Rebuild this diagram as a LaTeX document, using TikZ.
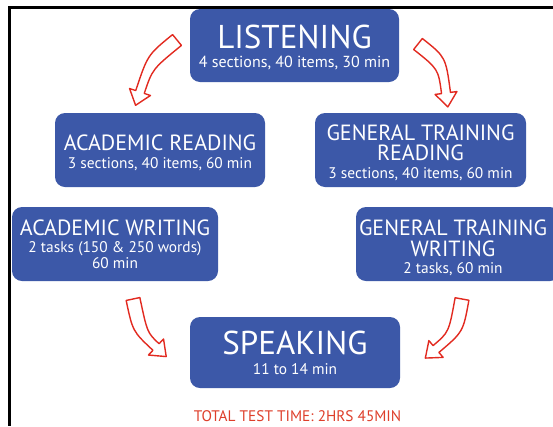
\documentclass[tikz,border=0pt]{standalone}
\usepackage{fontspec}
\setmainfont{PT Sans}
\usetikzlibrary{calc}
\definecolor{boxblue}{RGB}{60,88,168}
\definecolor{arrowred}{RGB}{226,42,32}
\definecolor{totalred}{RGB}{222,62,42}
\newcommand\harrow[3]{%
  \coordinate (hT) at (#1);
  \coordinate (hM) at (#2);
  \coordinate (hB) at (#3);
  \coordinate (hTL) at ($(hT)!7pt!90:(hM)$);
  \coordinate (hTR) at ($(hT)!7pt!-90:(hM)$);
  \coordinate (hBL) at ($(hB)!4.5pt!-90:(hM)$);
  \coordinate (hBR) at ($(hB)!4.5pt!90:(hM)$);
  \coordinate (hWL) at ($(hB)!11pt!-90:(hM)$);
  \coordinate (hWR) at ($(hB)!11pt!90:(hM)$);
  \coordinate (hP) at ($(hB)!-14pt!(hM)$);
  \coordinate (hTLx) at ($(hTL)+(hM)-(hT)$);
  \coordinate (hBLx) at ($(hBL)+(hM)-(hB)$);
  \coordinate (hTRx) at ($(hTR)+(hM)-(hT)$);
  \coordinate (hBRx) at ($(hBR)+(hM)-(hB)$);
  \coordinate (hML) at (intersection of hTL--hTLx and hBL--hBLx);
  \coordinate (hMR) at (intersection of hTR--hTRx and hBR--hBRx);
  \draw[hollow] (hTL) .. controls (hML) .. (hBL) -- (hWL) -- (hP) -- (hWR) -- (hBR) .. controls (hMR) .. (hTR) -- cycle;
}
\begin{document}
\begin{tikzpicture}[x=1pt,y=-1pt,
  boxstyle/.style={fill=boxblue, rounded corners=10pt, draw=none, inner sep=0pt},
  bigtitle/.style={text=white, font=\fontsize{33}{36}\selectfont, inner sep=0pt, anchor=base, text depth=0pt},
  title/.style={text=white, font=\fontsize{22}{24}\selectfont, inner sep=0pt, anchor=base, text depth=0pt},
  sub/.style={text=white, font=\fontsize{15.4}{17}\selectfont, inner sep=0pt, anchor=base, text height=0.72em},
  bigsub/.style={text=white, font=\fontsize{16}{18}\selectfont, inner sep=0pt, anchor=base, text height=0.72em},
  total/.style={text=totalred, font=\fontsize{15.3}{17}\selectfont, inner sep=0pt, anchor=base},
  hollow/.style={draw=arrowred, fill=white, line width=1.4pt, line join=round},
]
\useasboundingbox (0,0) rectangle (553,426);
\clip (0,0) rectangle (553,426);
\fill[white] (0,0) rectangle (553,426);
\draw[line width=2.2pt] (553,7.5) -- (9.5,7.5) -- (9.5,426);

% boxes
\node[boxstyle, minimum width=209pt, minimum height=73pt] (listen) at (294.5,45.5) {};
\node[boxstyle, minimum width=210pt, minimum height=74pt] (ar) at (160,150) {};
\node[boxstyle, minimum width=211pt, minimum height=74pt] (gtr) at (420.5,150) {};
\node[boxstyle, minimum width=206pt, minimum height=74pt] (aw) at (115,244) {};
\node[boxstyle, minimum width=204pt, minimum height=74pt] (gtw) at (458,244) {};
\node[boxstyle, minimum width=210pt, minimum height=71pt] (spk) at (295,352.5) {};

% texts
\node[bigtitle] (listenT) at (294.5,48) {LISTENING};
\node[bigsub] (listenS) at (294.5,67) {4 sections, 40 items, 30 min};
\node[title] (arT) at (160,150) {ACADEMIC READING};
\node[sub] (arS) at (160,168) {3 sections, 40 items, 60 min};
\node[title] (gtrT1) at (420.5,140) {GENERAL TRAINING};
\node[title] (gtrT2) at (420.5,160) {READING};
\node[sub] (gtrS) at (420.5,178) {3 sections, 40 items, 60 min};
\node[title] (awT) at (115,235) {ACADEMIC WRITING};
\node[sub] (awS1) at (115,252) {2 tasks (150 \& 250 words)};
\node[sub] (awS2) at (115,268) {60 min};
\node[title] (gtwT1) at (453,235) {GENERAL TRAINING};
\node[title] (gtwT2) at (453,256) {WRITING};
\node[sub] (gtwS) at (453,273) {2 tasks, 60 min};
\node[bigtitle] (spkT) at (295,354) {SPEAKING};
\node[sub] (spkS) at (295,374) {11 to 14 min};
\node[total] (total) at (297.5,421) {TOTAL TEST TIME: 2HRS 45MIN};

% hollow curved arrows
\harrow{177,40}{150,62}{140,92}
\harrow{418,44}{442,63}{446,93}
\harrow{133,299}{140,332}{156,347}
\harrow{462,299}{456,332}{436,349}
\end{tikzpicture}
\end{document}
